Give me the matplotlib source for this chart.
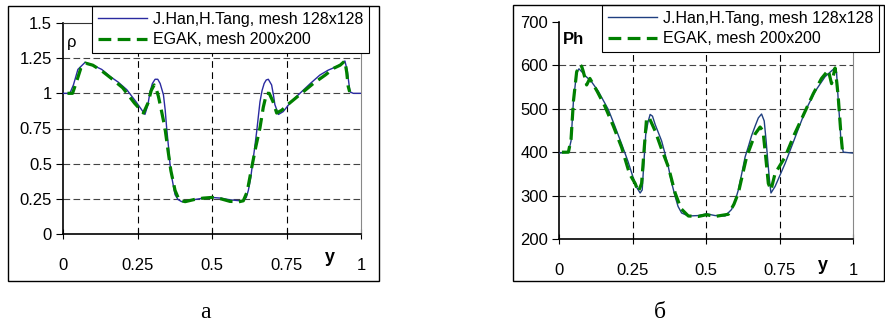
import matplotlib
matplotlib.use("Agg")
import matplotlib.pyplot as plt
from matplotlib.patches import Rectangle

# --- data ---
rho_han_x = [0, 0.023, 0.035, 0.05, 0.074, 0.10, 0.13, 0.158, 0.185, 0.214, 0.245, 0.275, 0.285,
             0.292, 0.300, 0.309, 0.318, 0.326, 0.337, 0.343, 0.348, 0.354, 0.359, 0.367, 0.376,
             0.386, 0.398, 0.42, 0.437, 0.47, 0.499, 0.53, 0.56, 0.585, 0.605, 0.615, 0.622, 0.630,
             0.636, 0.643, 0.65, 0.661, 0.668, 0.675, 0.682, 0.689, 0.700, 0.706, 0.711, 0.723,
             0.739, 0.765, 0.795, 0.83, 0.862, 0.89, 0.918, 0.935, 0.946, 0.954, 0.963, 0.974, 1.0]
rho_han = [1.0, 1.0, 1.06, 1.17, 1.22, 1.20, 1.17, 1.12, 1.08, 1.026, 0.94, 0.85, 0.92, 1.01, 1.07,
           1.10, 1.10, 1.07, 0.99, 0.88, 0.75, 0.62, 0.50, 0.38, 0.28, 0.245, 0.23, 0.235, 0.243,
           0.255, 0.26, 0.255, 0.243, 0.238, 0.236, 0.26, 0.31, 0.40, 0.50, 0.61, 0.73, 0.94, 1.02,
           1.07, 1.095, 1.10, 1.06, 0.99, 0.92, 0.85, 0.87, 0.94, 1.0, 1.07, 1.13, 1.165, 1.19,
           1.21, 1.23, 1.16, 1.01, 1.0, 1.0]

rho_egak_x = [0.015, 0.032, 0.045, 0.06, 0.075, 0.10, 0.13, 0.16, 0.20, 0.24, 0.27, 0.285, 0.296,
              0.306, 0.313, 0.32, 0.33, 0.342, 0.352, 0.362, 0.376, 0.39, 0.41, 0.44, 0.47, 0.50,
              0.53, 0.56, 0.59, 0.605, 0.618, 0.633, 0.647, 0.661, 0.672, 0.683, 0.692, 0.705,
              0.717, 0.734, 0.76, 0.80, 0.84, 0.88, 0.91, 0.93, 0.946, 0.952, 0.957, 0.962]
rho_egak = [1.0, 1.0, 1.08, 1.18, 1.215, 1.20, 1.16, 1.11, 1.04, 0.93, 0.86, 0.93, 1.02, 1.06, 1.03,
            0.98, 0.88, 0.755, 0.60, 0.45, 0.31, 0.24, 0.23, 0.245, 0.255, 0.26, 0.25, 0.232,
            0.229, 0.236, 0.30, 0.47, 0.62, 0.755, 0.90, 1.0, 1.0, 0.94, 0.86, 0.88, 0.93, 1.0,
            1.07, 1.13, 1.18, 1.20, 1.23, 1.15, 1.05, 1.01]

ph_han_x = [0, 0.032, 0.041, 0.049, 0.06, 0.068, 0.078, 0.088, 0.111, 0.134, 0.168, 0.19, 0.213,
            0.235, 0.253, 0.265, 0.276, 0.283, 0.289, 0.295, 0.303, 0.31, 0.318, 0.327, 0.338,
            0.349, 0.36, 0.372, 0.383, 0.395, 0.405, 0.417, 0.44, 0.474, 0.502, 0.531, 0.565,
            0.587, 0.60, 0.61, 0.622, 0.633, 0.645, 0.655, 0.667, 0.678, 0.689, 0.698, 0.704,
            0.71, 0.716, 0.721, 0.735, 0.769, 0.803, 0.837, 0.871, 0.905, 0.933, 0.944, 0.95,
            0.955, 0.959, 0.967, 1.0]
ph_han = [398, 400, 426, 517, 585, 592, 585, 577, 562, 540, 498, 460, 419, 378, 340, 318, 306, 313,
          380, 441, 470, 487, 483, 464, 445, 426, 398, 366, 330, 298, 275, 260, 253, 254, 258, 254,
          253, 268, 290, 313, 352, 389, 415, 438, 460, 479, 488, 472, 430, 381, 335, 306, 321, 374,
          434, 494, 540, 574, 591, 585, 517, 470, 426, 400, 398]

ph_egak_x = [0.01, 0.032, 0.041, 0.049, 0.06, 0.071, 0.077, 0.083, 0.094, 0.105, 0.13, 0.156,
             0.185, 0.213, 0.24, 0.259, 0.27, 0.281, 0.29, 0.298, 0.307, 0.327, 0.35, 0.372,
             0.395, 0.415, 0.44, 0.474, 0.502, 0.531, 0.576, 0.595, 0.61, 0.638, 0.667, 0.684,
             0.694, 0.703, 0.712, 0.721, 0.735, 0.769, 0.80, 0.837, 0.865, 0.893, 0.916, 0.927,
             0.939, 0.945, 0.95, 0.959, 0.964]
ph_egak = [400, 400, 430, 517, 585, 601, 598, 585, 555, 570, 540, 506, 460, 411, 350, 328, 309, 328,
           410, 479, 479, 449, 405, 366, 306, 270, 253, 252, 256, 252, 257, 280, 306, 389, 442, 458,
           449, 390, 328, 313, 351, 389, 440, 494, 535, 570, 589, 558, 594, 560, 525, 441, 404]

x_ticks = [0, 0.25, 0.5, 0.75, 1]
x_labels = ["0", "0.25", "0.5", "0.75", "1"]
rho_ticks = [0, 0.25, 0.5, 0.75, 1, 1.25, 1.5]
rho_labels = ["0", "0.25", "0.5", "0.75", "1", "1.25", "1.5"]
ph_ticks = [200, 300, 400, 500, 600, 700]

label_han = "J.Han,H.Tang, mesh 128x128"
label_egak = "EGAK, mesh 200x200"

plt.rcParams['font.family'] = ['Liberation Sans', 'DejaVu Sans']

W, H = 885, 326
fig = plt.figure(figsize=(W / 100, H / 100), dpi=100)


def fx(px):
    return px / W


def fy(py):
    return 1 - py / H


def box(x0, y0, x1, y1):
    fig.patches.append(Rectangle((fx(x0), fy(y1)), (x1 - x0) / W, (y1 - y0) / H,
                                 transform=fig.transFigure, fill=False,
                                 edgecolor='black', lw=1.0))


def setup(ax, yticks, ylabels, ylim, top_line):
    ax.set_xlim(0, 1)
    ax.set_ylim(*ylim)
    ax.set_xticks(x_ticks)
    ax.set_xticklabels(x_labels)
    ax.set_yticks(yticks)
    ax.set_yticklabels(ylabels)
    ax.tick_params(axis='x', direction='inout', length=7, width=0.8, pad=14, labelsize=12)
    ax.tick_params(axis='y', direction='out', length=5, width=0.8, pad=3, labelsize=12)
    for t in yticks[1:-1]:
        ax.axhline(t, color='#444444', lw=0.8, dashes=(6, 3), zorder=1)
    for t in x_ticks[1:-1]:
        ax.axvline(t, color='black', lw=0.8, dashes=(6, 4), zorder=1)
    ax.spines['left'].set_linewidth(1.2)
    ax.spines['bottom'].set_linewidth(1.2)
    ax.spines['right'].set_color('#888888')
    ax.spines['right'].set_linewidth(0.8)
    if top_line:
        ax.spines['top'].set_color('#333333')
        ax.spines['top'].set_linewidth(0.8)
    else:
        ax.spines['top'].set_visible(False)


def legend(ax, handles, x0, y0):
    leg = ax.legend(handles, [label_han, label_egak], loc='upper left',
                    bbox_to_anchor=(fx(x0), fy(y0)), bbox_transform=fig.transFigure,
                    borderaxespad=0, fancybox=False, framealpha=1, edgecolor='black',
                    fontsize=11.5, handlelength=3.1, handletextpad=0.35, borderpad=0.35,
                    labelspacing=0.35)
    leg.get_frame().set_linewidth(0.8)


# left panel: density
box(8, 6, 379, 281)
ax1 = fig.add_axes([fx(63), fy(234), 298 / W, 211 / H])
l1, = ax1.plot(rho_han_x, rho_han, color='#2a2aa0', lw=1.0, zorder=3)
l2, = ax1.plot(rho_egak_x, rho_egak, color='#008000', lw=2.3, dashes=(4, 2), zorder=4)
setup(ax1, rho_ticks, rho_labels, (0, 1.5), True)
fig.text(fx(67), fy(43), 'ρ', fontsize=12, va='center')
fig.text(fx(330), fy(258), 'y', fontsize=13, fontweight='bold', ha='center', va='center')
legend(ax1, [l1, l2], 92, 6)

# right panel: Ph
box(513, 5, 884, 281)
ax2 = fig.add_axes([fx(559), fy(239), 294 / W, 217 / H])
r1, = ax2.plot(ph_han_x, ph_han, color='#1f3f80', lw=1.0, zorder=3)
r2, = ax2.plot(ph_egak_x, ph_egak, color='#008000', lw=2.3, dashes=(4, 2), zorder=4)
setup(ax2, ph_ticks, [str(t) for t in ph_ticks], (200, 700), False)
fig.text(fx(563), fy(40), 'Ph', fontsize=12, fontweight='bold', va='center')
fig.text(fx(823), fy(266), 'y', fontsize=13, fontweight='bold', ha='center', va='center')
legend(ax2, [r1, r2], 602, 5)

# panel captions
fig.text(fx(205), fy(313), 'а', fontsize=17, family='Liberation Serif', ha='center', va='center')
fig.text(fx(660), fy(312), 'б', fontsize=17, family='Liberation Serif', ha='center', va='center')

fig.savefig('out.png', dpi=100)
